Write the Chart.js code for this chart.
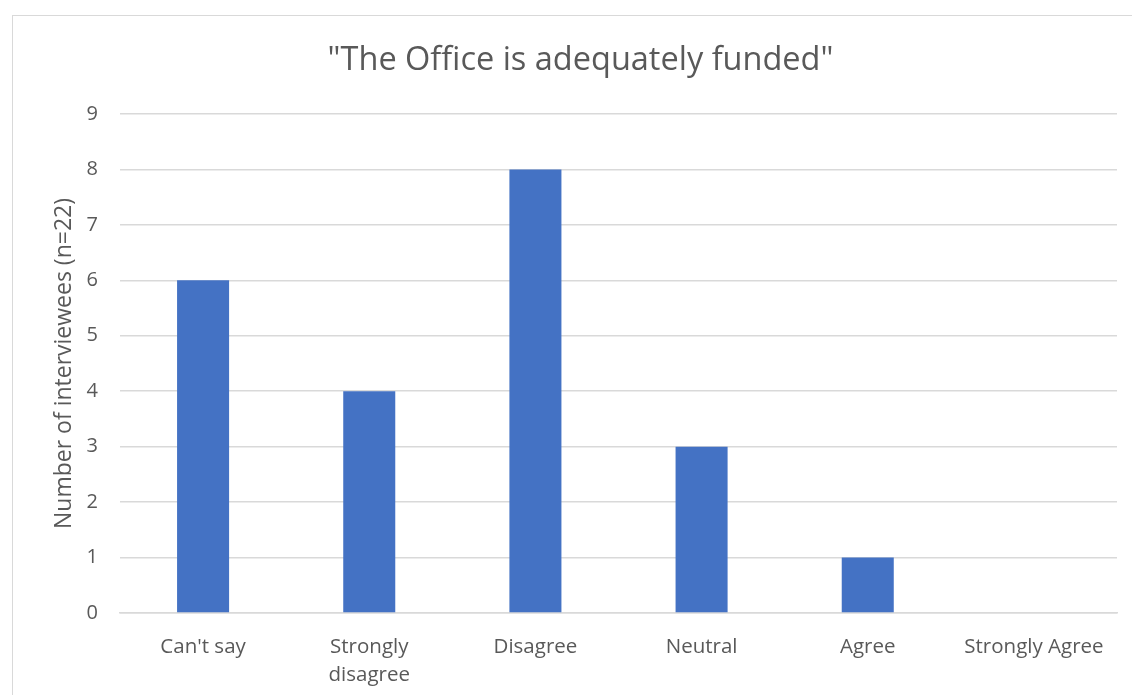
<!DOCTYPE html>
<html>
<head>
<meta charset="utf-8">
<script src="https://cdn.jsdelivr.net/npm/chart.js@4.4.1/dist/chart.umd.min.js"></script>
<style>
  html, body { margin: 0; padding: 0; background: #fff; overflow: hidden; }
  #frame {
    position: absolute; left: 12px; top: 15px;
    width: 1200px; height: 800px;
    border: 1.5px solid #d9d9d9; box-sizing: border-box;
  }
  #wrap { position: absolute; left: 0; top: 0; width: 1132px; height: 695px; }
</style>
</head>
<body>
<div id="frame"></div>
<div id="wrap"><canvas id="chart"></canvas></div>
<script>
  const categories = ["Can't say", ['Strongly', 'disagree'], 'Disagree', 'Neutral', 'Agree', 'Strongly Agree'];
  const counts = [6, 4, 8, 3, 1, 0];
  const yTicks = [0, 1, 2, 3, 4, 5, 6, 7, 8, 9];

  const textColor = '#595959';
  const gridColor = '#d9d9d9';
  const fontFamily = "'Open Sans', 'Noto Sans', sans-serif";

  function createChart(ctx) {
    return new Chart(ctx, {
      type: 'bar',
      data: {
        labels: categories,
        datasets: [{
          label: 'Interviewees',
          data: counts,
          backgroundColor: '#4472C4',
          borderWidth: 0,
          barPercentage: 0.62,
          categoryPercentage: 0.505
        }]
      },
      options: {
        responsive: true,
        maintainAspectRatio: false,
        animation: false,
        layout: { padding: { left: 44, right: 15, top: 0, bottom: 0 } },
        plugins: {
          legend: { display: false },
          tooltip: { enabled: false },
          title: {
            display: true,
            text: '"The Office is adequately funded"',
            color: textColor,
            font: { family: fontFamily, size: 32.5, weight: 'normal', lineHeight: 1.2 },
            padding: { top: 41, bottom: 34 }
          }
        },
        scales: {
          x: {
            grid: { display: false },
            border: { display: true, color: gridColor, width: 1.5 },
            ticks: {
              color: textColor,
              padding: 12,
              maxRotation: 0,
              autoSkip: false,
              font: { family: fontFamily, size: 20.5, lineHeight: 1.37 }
            },
            afterFit: function(scale) { scale.height = 82; }
          },
          y: {
            min: 0,
            max: 9,
            afterBuildTicks: function(scale) {
              scale.ticks = yTicks.map(v => ({ value: v }));
            },
            grid: { color: gridColor, lineWidth: 1.5, drawTicks: false },
            border: { display: false },
            ticks: {
              color: textColor,
              padding: 22,
              font: { family: fontFamily, size: 20 }
            },
            title: {
              display: true,
              text: 'Number of interviewees (n=22)',
              color: textColor,
              font: { family: fontFamily, size: 23 },
              padding: { top: 7, bottom: 0 }
            },
            afterFit: function(scale) { scale.width = 76; }
          }
        }
      }
    });
  }

  createChart(document.getElementById('chart').getContext('2d'));
</script>
</body>
</html>
